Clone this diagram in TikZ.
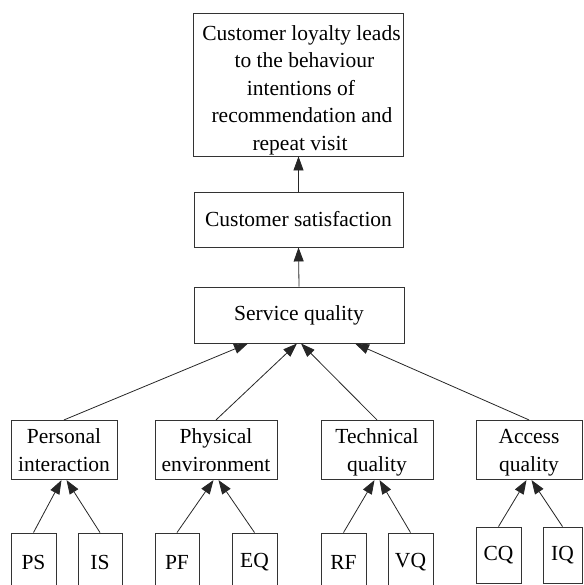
\documentclass[tikz,border=0pt]{standalone}
\usepackage{fontspec}
\setmainfont{Liberation Serif}
\usetikzlibrary{arrows.meta}
\tikzset{
  box/.style={draw=black!80, line width=0.9pt, rectangle, inner sep=0pt, align=center,
    font=\fontsize{21.5}{27.5}\selectfont},
  conn/.style={draw=black!85, line width=0.8pt, -{Triangle[length=14pt,width=10pt]}}
}
\newcommand{\topfix}{\rule{0pt}{23.5pt}}
\begin{document}
\begin{tikzpicture}[x=1pt,y=-1pt]
\useasboundingbox (0,0) rectangle (583,585);
% top levels
\node[box, minimum width=210, minimum height=143] (top) at (298.5,84.5)
  {\hspace{6pt}\rule{0pt}{26pt}Customer loyalty leads\\ \hspace{12pt}to the behaviour\\ \hspace{5pt}intentions of\\ \hspace{7pt}recommendation and\\ \hspace{3pt}repeat visit};
\node[box, minimum width=209, minimum height=55] (sat) at (298.5,219.5) {Customer satisfaction};
\node[box, minimum width=210, minimum height=56] (sq) at (299,315) {Service quality};
% level 2
\node[box, minimum width=106, minimum height=56] (pi) at (64,450) {\topfix Personal\\interaction\strut};
\node[box, minimum width=122, minimum height=56] (pe) at (216,450) {\topfix Physical\\environment\strut};
\node[box, minimum width=112, minimum height=56] (tq) at (377,450) {\topfix Technical\\quality\strut};
\node[box, minimum width=106, minimum height=56] (aq) at (529,450) {\topfix Access\\quality\strut};
% level 3
\node[box, minimum width=45, minimum height=58] (ps) at (33.5,562) {PS};
\node[box, minimum width=44, minimum height=58] (is) at (100,562) {IS};
\node[box, minimum width=44, minimum height=58] (pf) at (177,562) {PF};
\node[box, minimum width=45, minimum height=58] (eq) at (254.5,562) {EQ};
\node[box, minimum width=45, minimum height=58] (rf) at (343.5,562) {RF};
\node[box, minimum width=45, minimum height=58] (vq) at (410.5,562) {VQ};
\node[box, minimum width=45, minimum height=56] (cq) at (498.5,555) {CQ};
\node[box, minimum width=39, minimum height=56] (iq) at (562.5,555) {IQ};
% connectors
\draw[conn] (sat.north) -- (top.south);
\draw[conn] (sq.north) -- (sat.south);
\draw[conn] (pi.north) -- ([xshift=-51pt]sq.south);
\draw[conn] (pe.north) -- ([xshift=-2pt]sq.south);
\draw[conn] (tq.north) -- ([xshift=2pt]sq.south);
\draw[conn] (aq.north) -- ([xshift=56pt]sq.south);
\draw[conn] (ps.north) -- ([xshift=-2.5pt]pi.south);
\draw[conn] (is.north) -- ([xshift=2.5pt]pi.south);
\draw[conn] (pf.north) -- ([xshift=-2.5pt]pe.south);
\draw[conn] (eq.north) -- ([xshift=2.5pt]pe.south);
\draw[conn] (rf.north) -- ([xshift=-2.5pt]tq.south);
\draw[conn] (vq.north) -- ([xshift=2.5pt]tq.south);
\draw[conn] (cq.north) -- ([xshift=-2.5pt]aq.south);
\draw[conn] (iq.north) -- ([xshift=2.5pt]aq.south);
\end{tikzpicture}
\end{document}
